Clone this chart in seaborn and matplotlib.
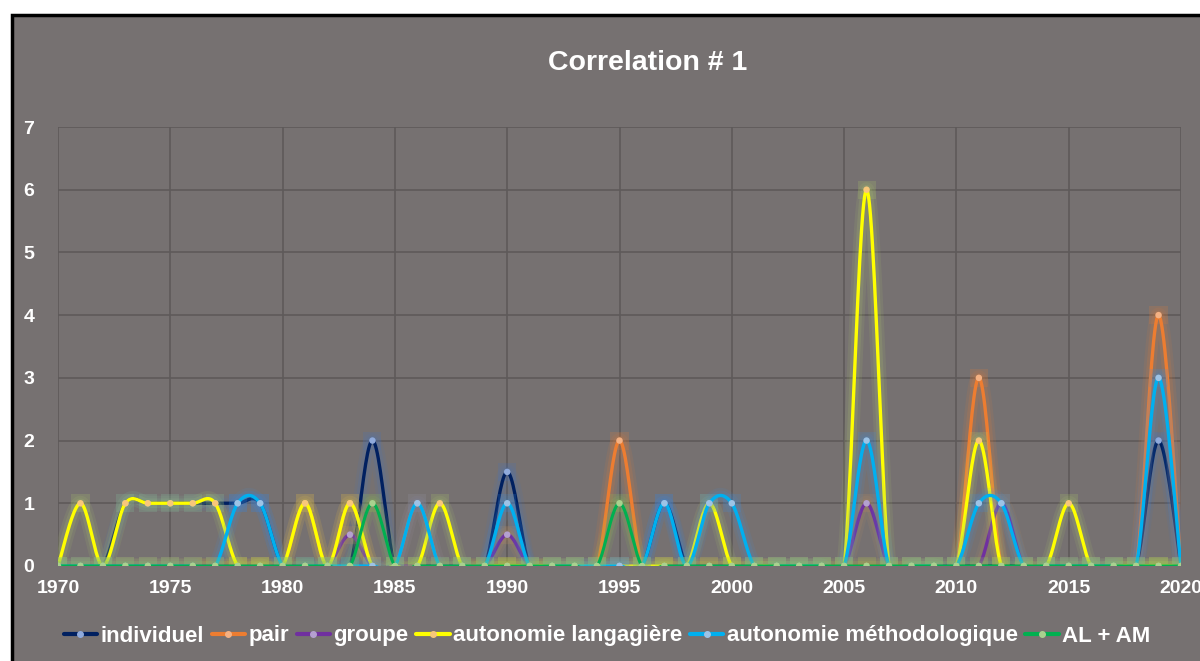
import numpy as np
import seaborn as sns
import matplotlib.pyplot as plt
from matplotlib.patches import Rectangle
from matplotlib.lines import Line2D

# yearly counts, 1970-2020 (years not listed are 0)
years = list(range(1970, 2021))
individuel = {1973: 1, 1974: 1, 1975: 1, 1976: 1, 1977: 1, 1978: 1, 1979: 1,
              1984: 2, 1990: 1.5, 1997: 1, 2019: 2}
pair = {1981: 1, 1983: 1, 1986: 1, 1995: 2, 2011: 3, 2019: 4}
groupe = {1983: 0.5, 1990: 0.5, 2006: 1, 2012: 1}
langagiere = {1971: 1, 1973: 1, 1974: 1, 1975: 1, 1976: 1, 1977: 1, 1981: 1,
              1983: 1, 1987: 1, 1999: 1, 2006: 6, 2011: 2, 2015: 1}
methodo = {1978: 1, 1979: 1, 1986: 1, 1990: 1, 1997: 1, 1999: 1, 2000: 1,
           2006: 2, 2011: 1, 2012: 1, 2019: 3}
al_am = {1984: 1, 1995: 1}

names = ["individuel", "pair", "groupe", "autonomie langagière",
         "autonomie méthodologique", "AL + AM"]
series = [individuel, pair, groupe, langagiere, methodo, al_am]
line_colors = ["#002060", "#ED7D31", "#7030A0", "#FFFF00", "#00B0F0", "#00B050"]
marker_colors = ["#8FAADC", "#F4B183", "#B4A0D0", "#F8C77A", "#9DC3E6", "#A9D18E"]
glow_colors = ["#4472C4", "#ED7D31", "#C09060", "#B5D56A", "#3D8FE0", "#92D050"]
widths = [2.4, 2.4, 2.4, 2.4, 2.4, 2.2]

bg = "#767171"


def smooth(x, y, n=24):
    # Excel-like smoothed line: Catmull-Rom bezier through the data points
    p = np.column_stack([x, y]).astype(float)
    p = np.vstack([p[0], p, p[-1]])
    t = np.linspace(0, 1, n)[:, None]
    out = []
    for i in range(len(p) - 3):
        p0, p1, p2, p3 = p[i], p[i + 1], p[i + 2], p[i + 3]
        c1 = p1 + (p2 - p0) / 6
        c2 = p2 - (p3 - p1) / 6
        seg = ((1 - t) ** 3) * p1 + 3 * ((1 - t) ** 2) * t * c1 + 3 * (1 - t) * t ** 2 * c2 + t ** 3 * p2
        out.append(seg if i == 0 else seg[1:])
    out = np.vstack(out)
    return out[:, 0], out[:, 1]


sns.set_style("white")
plt.rcParams['font.family'] = ['Liberation Sans', 'DejaVu Sans']

fig = plt.figure(figsize=(12, 6.61), dpi=100)
fig.patch.set_facecolor("white")
fig.patches.append(Rectangle((12 / 1200, -0.05), 1.05, 1 - 15 / 661 + 0.05,
                             transform=fig.transFigure, facecolor=bg,
                             edgecolor="black", linewidth=2.5, zorder=-10))

ax = fig.add_axes([58 / 1200, 95 / 661, 1123 / 1200, 439 / 661])
ax.set_facecolor("none")

for k, (d, c, mc, gc, lw) in enumerate(zip(series, line_colors, marker_colors, glow_colors, widths)):
    vals = [d.get(y, 0) for y in years]
    sx, sy = smooth(years, vals)
    z = 3 + k * 3
    for gw, ga in [(11, 0.10), (7, 0.14)]:
        sns.lineplot(x=sx, y=sy, ax=ax, color=gc, lw=gw, alpha=ga, sort=False,
                     estimator=None, zorder=z, solid_capstyle="round")
    sns.lineplot(x=sx, y=sy, ax=ax, color=c, lw=lw, sort=False, estimator=None, zorder=z + 1)
    sns.scatterplot(x=years, y=vals, ax=ax, color=gc, s=170, alpha=0.18, marker="s",
                    edgecolor="none", zorder=z)
    sns.scatterplot(x=years, y=vals, ax=ax, color=mc, s=22, edgecolor="none", zorder=z + 2)

ax.set_xlim(1970, 2020)
ax.set_ylim(0, 7)
ax.set_xticks(range(1970, 2021, 5))
ax.set_yticks(range(0, 8))
ax.grid(True, color="#5E5A5A", lw=1.2)
ax.set_axisbelow(True)
for s in ax.spines.values():
    s.set_visible(False)
ax.tick_params(length=0, labelsize=14, labelcolor="white", pad=10)
ax.tick_params(axis="y", pad=17)
for lab in ax.get_xticklabels() + ax.get_yticklabels():
    lab.set_fontweight("bold")
ax.set_xlabel("")
ax.set_ylabel("")

fig.text(648 / 1200, 1 - 63 / 661, "Correlation # 1", ha="center", va="center",
         color="white", fontsize=20.5, fontweight="bold")

handles = [Line2D([0], [0], color=c, lw=3, marker="o", markersize=4,
                  markerfacecolor=mc, markeredgecolor=mc)
           for c, mc in zip(line_colors, marker_colors)]
leg = fig.legend(handles, names, loc="center", bbox_to_anchor=(607 / 1200, 25 / 661),
                 ncol=6, frameon=False, handlelength=1.5, handletextpad=0.15,
                 columnspacing=0.35, prop={"weight": "bold", "size": 16})
for t in leg.get_texts():
    t.set_color("white")

fig.savefig("out.png", dpi=100)
